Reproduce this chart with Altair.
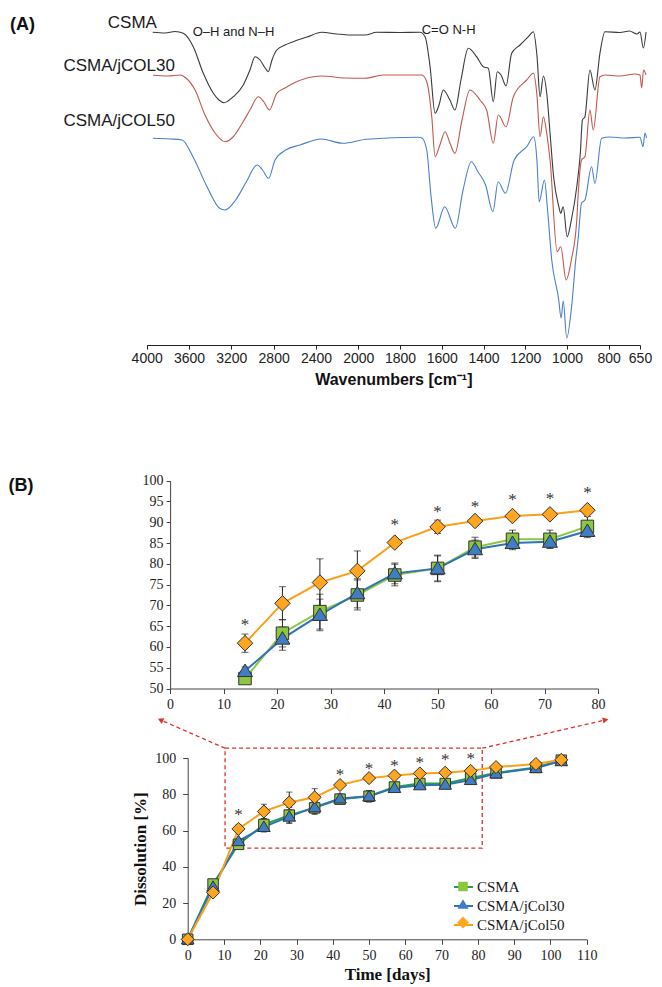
import altair as alt
import pandas as pd

# ============================ DATA =====================================
# (A) FTIR spectra: (wavenumber [cm-1], relative transmittance [a.u., stacked])
CSMA_SPECTRUM = [
    (3943, 312.7), (3827, 312.0), (3732, 313.5), (3654, 311.7), (3560, 298.3), (3465, 271.7),
    (3370, 251.7), (3317, 245.0), (3269, 242.3), (3232, 244.0), (3181, 248.3), (3087, 260.0),
    (3024, 275.0), (2976, 288.3), (2929, 285.0), (2881, 277.0), (2851, 273.3), (2816, 285.0),
    (2771, 295.0), (2693, 300.0), (2614, 303.3), (2485, 308.0), (2346, 312.7), (2204, 311.0),
    (2078, 310.0), (1968, 310.0), (1912, 312.7), (1800, 312.5), (1704, 312.7), (1680, 308.3),
    (1656, 278.3), (1632, 231.7), (1613, 240.0), (1593, 255.0), (1561, 245.0), (1537, 235.0),
    (1508, 265.0), (1473, 296.7), (1433, 288.3), (1401, 278.3), (1377, 276.7), (1353, 243.3),
    (1334, 273.3), (1316, 270.0), (1292, 259.0), (1265, 291.7), (1225, 300.0), (1185, 308.3),
    (1161, 313.3), (1144, 290.0), (1129, 248.3), (1113, 269.0), (1096, 250.0), (1081, 211.7),
    (1064, 168.3), (1039, 138.3), (1030, 131.7), (1018, 138.3), (999, 108.3), (979, 125.0),
    (953, 158.3), (936, 191.7), (926, 225.0), (914, 228.3), (890, 275.0), (866, 255.0),
    (842, 291.7), (818, 313.3), (746, 312.5), (700, 314.0), (665, 311.0), (650, 313.0),
    (634, 297.0), (621, 313.0),
]
COL30_SPECTRUM = [
    (3940, 269.7), (3799, 269.0), (3685, 270.0), (3629, 267.0), (3543, 255.0), (3449, 230.0),
    (3354, 212.0), (3260, 203.3), (3184, 208.0), (3090, 223.0), (3024, 235.0), (2945, 248.3),
    (2892, 243.0), (2841, 235.0), (2771, 251.7), (2693, 257.0), (2614, 261.7), (2346, 269.0),
    (2126, 267.0), (1968, 266.7), (1880, 270.0), (1696, 270.0), (1672, 263.3), (1648, 228.3),
    (1632, 188.3), (1609, 200.0), (1584, 213.3), (1561, 202.0), (1537, 191.7), (1503, 225.0),
    (1465, 255.0), (1417, 245.0), (1385, 235.0), (1353, 201.7), (1329, 230.0), (1292, 218.3),
    (1257, 248.3), (1193, 265.0), (1160, 271.7), (1144, 250.0), (1129, 208.3), (1113, 228.3),
    (1096, 210.0), (1081, 185.0), (1047, 93.3), (1030, 98.3), (1004, 65.0), (979, 85.0),
    (953, 125.0), (947, 148.3), (930, 185.0), (914, 188.3), (890, 235.0), (874, 215.0),
    (842, 268.3), (818, 270.0), (746, 269.0), (674, 271.0), (650, 270.0), (642, 257.0),
    (633, 275.0), (621, 270.0),
]
COL50_SPECTRUM = [
    (3941, 206.7), (3780, 206.0), (3666, 205.0), (3563, 188.3), (3430, 158.3), (3311, 136.7),
    (3260, 135.0), (3159, 145.0), (3058, 163.3), (2956, 180.0), (2905, 175.0), (2848, 166.7),
    (2787, 185.0), (2686, 195.0), (2551, 200.0), (2349, 206.0), (2146, 201.7), (1960, 205.7),
    (1714, 207.7), (1695, 207.0), (1672, 195.0), (1652, 150.0), (1629, 116.7), (1586, 138.3),
    (1535, 116.7), (1498, 155.0), (1458, 183.3), (1426, 173.0), (1390, 160.0), (1355, 133.3),
    (1330, 163.3), (1295, 151.7), (1253, 185.0), (1193, 198.3), (1159, 208.3), (1144, 185.0),
    (1133, 143.3), (1108, 165.0), (1093, 135.0), (1073, 85.0), (1040, 46.0), (1028, 27.0),
    (1018, 44.0), (1001, 7.0), (977, 40.0), (958, 85.0), (947, 105.0), (930, 142.0),
    (914, 145.0), (882, 178.3), (866, 161.7), (834, 206.7), (794, 208.0), (722, 207.0),
    (650, 207.7), (636, 198.3), (626, 212.0), (619, 207.0),
]
SPECTRUM_NAMES = ["CSMA", "CSMA/jCOL30", "CSMA/jCOL50"]
SPECTRUM_COLORS = ["#3a3a3a", "#c2574c", "#4a80c8"]
WAVENUMBER_TICKS = [4000, 3600, 3200, 2800, 2400, 2000, 1800, 1600, 1400, 1200, 1000, 800, 650]

SAMPLE_LABEL_WN = [3903, 3733, 3733]
SAMPLE_LABEL_T = [322.0, 279.5, 224.0]
BAND_LABELS = ["O\u2013H and N\u2013H", "C=O N-H"]
BAND_LABEL_WN = [3565, 1696]
BAND_LABEL_T = [313.5, 315.0]

# (B) dissolution [%] vs time [days]
DAYS = [0, 7, 14, 21, 28, 35, 42, 50, 57, 64, 71, 78, 85, 96, 103]
SERIES = ["CSMA", "CSMA/jCol30", "CSMA/jCol50"]
CSMA_MEAN = [0, 30.5, 52.4, 63.3, 68.5, 72.5, 77.3, 78.9, 84.0, 85.9, 85.9, 89.0, 91.8, 94.8, 98.8]
CSMA_SD = [0, 1.0, 1.0, 3.3, 4.2, 3.6, 2.6, 3.2, 2.4, 2.2, 2.2, 2.4, 0.8, 0.8, 0.6]
COL30_MEAN = [0, 29.0, 54.2, 62.0, 67.7, 72.9, 77.7, 78.9, 83.5, 85.0, 85.3, 87.9, 91.5, 94.5, 98.3]
COL30_SD = [0, 1.0, 1.0, 2.8, 3.8, 3.5, 2.5, 3.0, 2.2, 1.6, 1.5, 1.6, 0.8, 0.8, 0.6]
COL50_MEAN = [0, 25.8, 60.9, 70.5, 75.5, 78.3, 85.1, 88.9, 90.3, 91.5, 91.9, 92.9, 95.0, 96.7, 99.0]
COL50_SD = [0, 1.0, 2.2, 4.0, 5.7, 4.8, 0.8, 1.6, 0.6, 0.6, 0.5, 0.6, 0.6, 0.6, 0.5]

SIG_DAYS = [14, 42, 50, 57, 64, 71, 78]
SIG_Y_INSET = [66.0, 90.1, 93.3, 94.3, 96.0, 96.3, 97.7]
SIG_Y_MAIN = [70.4, 92.5, 95.8, 97.1, 98.9, 100.4, 101.1]

INSET_FIRST_DAY, INSET_LAST_DAY = 14, 78
ZOOM_BOX = {"day": [10.3], "day2": [81.2], "pct": [50.3], "pct2": [105.4]}
ZOOM_ARROW_FROM_DAY = [10.3, 81.2]
ZOOM_ARROW_FROM_PCT = [105.4, 105.4]
ZOOM_ARROW_TO_DAY = [-7.5, 115.2]
ZOOM_ARROW_TO_PCT = [121.0, 121.0]

INSET_LINE_COLORS = ["#8dc63f", "#2f72b8", "#f9a11b"]
MAIN_LINE_COLORS = ["#23a04a", "#2f72b8", "#f9a11b"]
MARKER_FILLS = ["#8dc63f", "#3f7ec4", "#ffa51f"]
# marker outlines as custom paths (half of the [-1, 1] symbol box)
MARKER_SHAPES = ["M-0.5,-0.5H0.5V0.5H-0.5Z",
                 "M0,-0.56L0.6,0.44H-0.6Z",
                 "M0,-0.62L0.62,0L0,0.62L-0.62,0Z"]
ZOOM_RED = "#e0302c"

# ============================ LAYOUT ===================================
W, H = 646, 976
SANS = "Liberation Sans"
SERIF = "Liberation Serif"

# ---------------- Panel A ----------------
spec_rows = []
for name, pts in zip(SPECTRUM_NAMES, [CSMA_SPECTRUM, COL30_SPECTRUM, COL50_SPECTRUM]):
    for wn, t in pts:
        spec_rows.append({"sample": name, "wn": wn, "t": t})
spec_df = pd.DataFrame(spec_rows)

SA_X = alt.Scale(domain=[4000, 2000, 650], range=[138.7, 350.3, 632.0], nice=False, zero=False)
SA_Y = alt.Scale(domain=[0, 337], range=[337, 0], nice=False, zero=False)
AX_A = alt.Axis(orient="bottom", offset=337 - H, values=WAVENUMBER_TICKS, format="d",
                title="Wavenumbers [cm\u207b\u00b9]",
                grid=False, labelFlush=False, labelOverlap=False, domainColor="#222", tickColor="#222",
                tickSize=4, labelFont=SANS, labelFontSize=14, labelColor="#222", labelPadding=2,
                titleFont=SANS, titleFontSize=16, titleFontWeight="bold", titleColor="#111", titlePadding=6)


def xa(field):
    return alt.X(f"{field}:Q", scale=SA_X, axis=AX_A)


def ya(field):
    return alt.Y(f"{field}:Q", scale=SA_Y, axis=None)


spectra = alt.Chart(spec_df).mark_line(strokeWidth=1.1, interpolate="monotone").encode(
    x=xa("wn"), y=ya("t"),
    color=alt.Color("sample:N", scale=alt.Scale(domain=SPECTRUM_NAMES, range=SPECTRUM_COLORS), legend=None),
    order=alt.Order("wn:Q", sort="descending"),
)
lab_a = alt.Chart(pd.DataFrame({"wn": [5292], "t": [320.0], "txt": ["(A)"]})).mark_text(
    align="left", baseline="middle", font=SANS, fontSize=18, fontWeight="bold", color="#111"
).encode(x=xa("wn"), y=ya("t"), text="txt:N")
lab_samples = alt.Chart(pd.DataFrame({"wn": SAMPLE_LABEL_WN, "t": SAMPLE_LABEL_T, "txt": SPECTRUM_NAMES})).mark_text(
    align="right", baseline="middle", font=SANS, fontSize=17, color="#1a1a1a"
).encode(x=xa("wn"), y=ya("t"), text="txt:N")
lab_bands = alt.Chart(pd.DataFrame({"wn": BAND_LABEL_WN, "t": BAND_LABEL_T, "txt": BAND_LABELS})).mark_text(
    align="left", baseline="middle", font=SANS, fontSize=13, color="#1a1a1a"
).encode(x=xa("wn"), y=ya("t"), text="txt:N")
panel_a = alt.layer(spectra, lab_a, lab_samples, lab_bands)

# ---------------- Panel B data frames ----------------
rows = []
for name, means, sds in zip(SERIES, [CSMA_MEAN, COL30_MEAN, COL50_MEAN], [CSMA_SD, COL30_SD, COL50_SD]):
    for d, m, s in zip(DAYS, means, sds):
        rows.append({"series": name, "day": d, "pct": m, "lo": m - s, "hi": m + s, "sd": s})
diss = pd.DataFrame(rows)
inset = diss[(diss.day >= INSET_FIRST_DAY) & (diss.day <= INSET_LAST_DAY)]

B_AX = dict(grid=False, labelFlush=False, labelOverlap=False, domainColor="#444", tickColor="#444",
            labelFont=SERIF, labelFontSize=14, labelColor="#222", titleFont=SERIF,
            titleFontWeight="bold", titleColor="#111")

# marker scales listed in reverse order so that their legend stays separate from the line legend
MARKER_DOMAIN = SERIES[::-1]
MARKER_FILL_RANGE = MARKER_FILLS[::-1]
MARKER_SHAPE_RANGE = MARKER_SHAPES[::-1]

LEG_POS = dict(title=None, orient="none", legendX=445, legendY=868.5, padding=0, rowPadding=0,
               symbolSize=361, labelFont=SERIF, labelFontSize=15, labelOffset=3, values=SERIES)
LINE_LEGEND = alt.Legend(symbolType="stroke", symbolStrokeWidth=2, labelColor="#1a1a1a", **LEG_POS)
MARKER_LEGEND = alt.Legend(symbolStrokeColor="#333", symbolStrokeWidth=1, labelExpr="''", zindex=2, **LEG_POS)


def build_b(df, xs, ys, ax_x, ax_y, line_colors, stars_y, msize, cap, with_legend):
    def xe(f):
        return alt.X(f"{f}:Q", scale=xs, axis=ax_x)

    def ye(f):
        return alt.Y(f"{f}:Q", scale=ys, axis=ax_y)

    err = df[df.sd > 0]
    rules = alt.Chart(err).mark_rule(color="#222", strokeWidth=1).encode(x=xe("day"), y=ye("lo"), y2="hi:Q")
    cap_lo = alt.Chart(err).mark_tick(orient="horizontal", size=cap, thickness=1, color="#222").encode(x=xe("day"), y=ye("lo"))
    cap_hi = alt.Chart(err).mark_tick(orient="horizontal", size=cap, thickness=1, color="#222").encode(x=xe("day"), y=ye("hi"))
    lines = alt.Chart(df).mark_line(strokeWidth=2).encode(
        x=xe("day"), y=ye("pct"),
        stroke=alt.Stroke("series:N", scale=alt.Scale(domain=SERIES, range=line_colors),
                          legend=LINE_LEGEND if with_legend else None),
    )
    points = alt.Chart(df).mark_point(filled=True, opacity=1, stroke="#333", strokeWidth=1, size=msize).encode(
        x=xe("day"), y=ye("pct"),
        fill=alt.Fill("series:N", scale=alt.Scale(domain=MARKER_DOMAIN, range=MARKER_FILL_RANGE),
                      legend=MARKER_LEGEND if with_legend else None),
        shape=alt.Shape("series:N", scale=alt.Scale(domain=MARKER_DOMAIN, range=MARKER_SHAPE_RANGE),
                        legend=MARKER_LEGEND if with_legend else None),
    )
    stars = alt.Chart(pd.DataFrame({"day": SIG_DAYS, "sy": stars_y})).mark_text(
        text="*", font=SERIF, fontSize=17, color="#333", baseline="middle", dy=3
    ).encode(x=xe("day"), y=ye("sy"))
    return xe, ye, [rules, cap_lo, cap_hi, lines, points, stars]


# ---------------- Panel B inset ----------------
SU_X = alt.Scale(domain=[0, 80], range=[162.1, 590.1], nice=False, zero=False)
SU_Y = alt.Scale(domain=[50, 100], range=[680.5, 472.7], nice=False, zero=False)
AX_UX = alt.Axis(orient="bottom", offset=680.5 - H, values=list(range(0, 81, 10)), title="",
                 tickSize=5, labelPadding=4, **B_AX)
AX_UY = alt.Axis(orient="left", offset=-162.1, values=list(range(50, 101, 5)), title="",
                 tickSize=4, labelPadding=3, **B_AX)
xu, yu, inset_layers = build_b(inset, SU_X, SU_Y, AX_UX, AX_UY, INSET_LINE_COLORS, SIG_Y_INSET, 625, 7, False)
lab_b = alt.Chart(pd.DataFrame({"day": [-30.2], "pct": [98.8], "txt": ["(B)"]})).mark_text(
    align="left", baseline="middle", font=SANS, fontSize=18, fontWeight="bold", color="#111"
).encode(x=xu("day"), y=yu("pct"), text="txt:N")
panel_b_inset = alt.layer(*inset_layers, lab_b)

# ---------------- Panel B main ----------------
SL_X = alt.Scale(domain=[0, 110], range=[179.7, 578.7], nice=False, zero=False)
SL_Y = alt.Scale(domain=[0, 100], range=[931.3, 750.0], nice=False, zero=False)
AX_LX = alt.Axis(orient="bottom", offset=931.3 - H, values=list(range(0, 111, 10)), title="Time [days]",
                 tickSize=5, labelPadding=4, titleFontSize=17, titlePadding=4, **B_AX)
AX_LY = alt.Axis(orient="left", offset=-179.7, values=list(range(0, 101, 20)), title="Dissolution [%]",
                 tickSize=5, labelPadding=7, titleFontSize=17, titlePadding=5, **B_AX)
xl, yl, main_layers = build_b(diss, SL_X, SL_Y, AX_LX, AX_LY, MAIN_LINE_COLORS, SIG_Y_MAIN, 441, 6, True)

box = alt.Chart(pd.DataFrame(ZOOM_BOX)).mark_rect(
    fillOpacity=0, stroke=ZOOM_RED, strokeWidth=1.3, strokeDash=[4, 3]
).encode(x=xl("day"), x2="day2:Q", y=yl("pct"), y2="pct2:Q")
arrow_df = pd.DataFrame({"day": ZOOM_ARROW_FROM_DAY, "pct": ZOOM_ARROW_FROM_PCT,
                         "day2": ZOOM_ARROW_TO_DAY, "pct2": ZOOM_ARROW_TO_PCT})
arrows = alt.Chart(arrow_df).mark_rule(color=ZOOM_RED, strokeWidth=1.3, strokeDash=[4, 3]).encode(
    x=xl("day"), x2="day2:Q", y=yl("pct"), y2="pct2:Q")
head_l = alt.Chart(arrow_df.iloc[[0]]).mark_point(shape="triangle-up", filled=True, opacity=1, color=ZOOM_RED,
                                                  size=40, angle=293.6).encode(x=xl("day2"), y=yl("pct2"))
head_r = alt.Chart(arrow_df.iloc[[1]]).mark_point(shape="triangle-up", filled=True, opacity=1, color=ZOOM_RED,
                                                  size=40, angle=77.1).encode(x=xl("day2"), y=yl("pct2"))
panel_b_main = alt.layer(box, arrows, head_l, head_r, *main_layers)

chart = alt.layer(panel_a, panel_b_inset, panel_b_main).resolve_scale(
    x="independent", y="independent", color="independent", stroke="independent",
    fill="independent", shape="independent",
).properties(
    width=W, height=H, padding=0, autosize=alt.AutoSizeParams(type="none"),
).configure_view(strokeWidth=0)

chart.save("out.html", embed_options={"renderer": "svg", "actions": False})
